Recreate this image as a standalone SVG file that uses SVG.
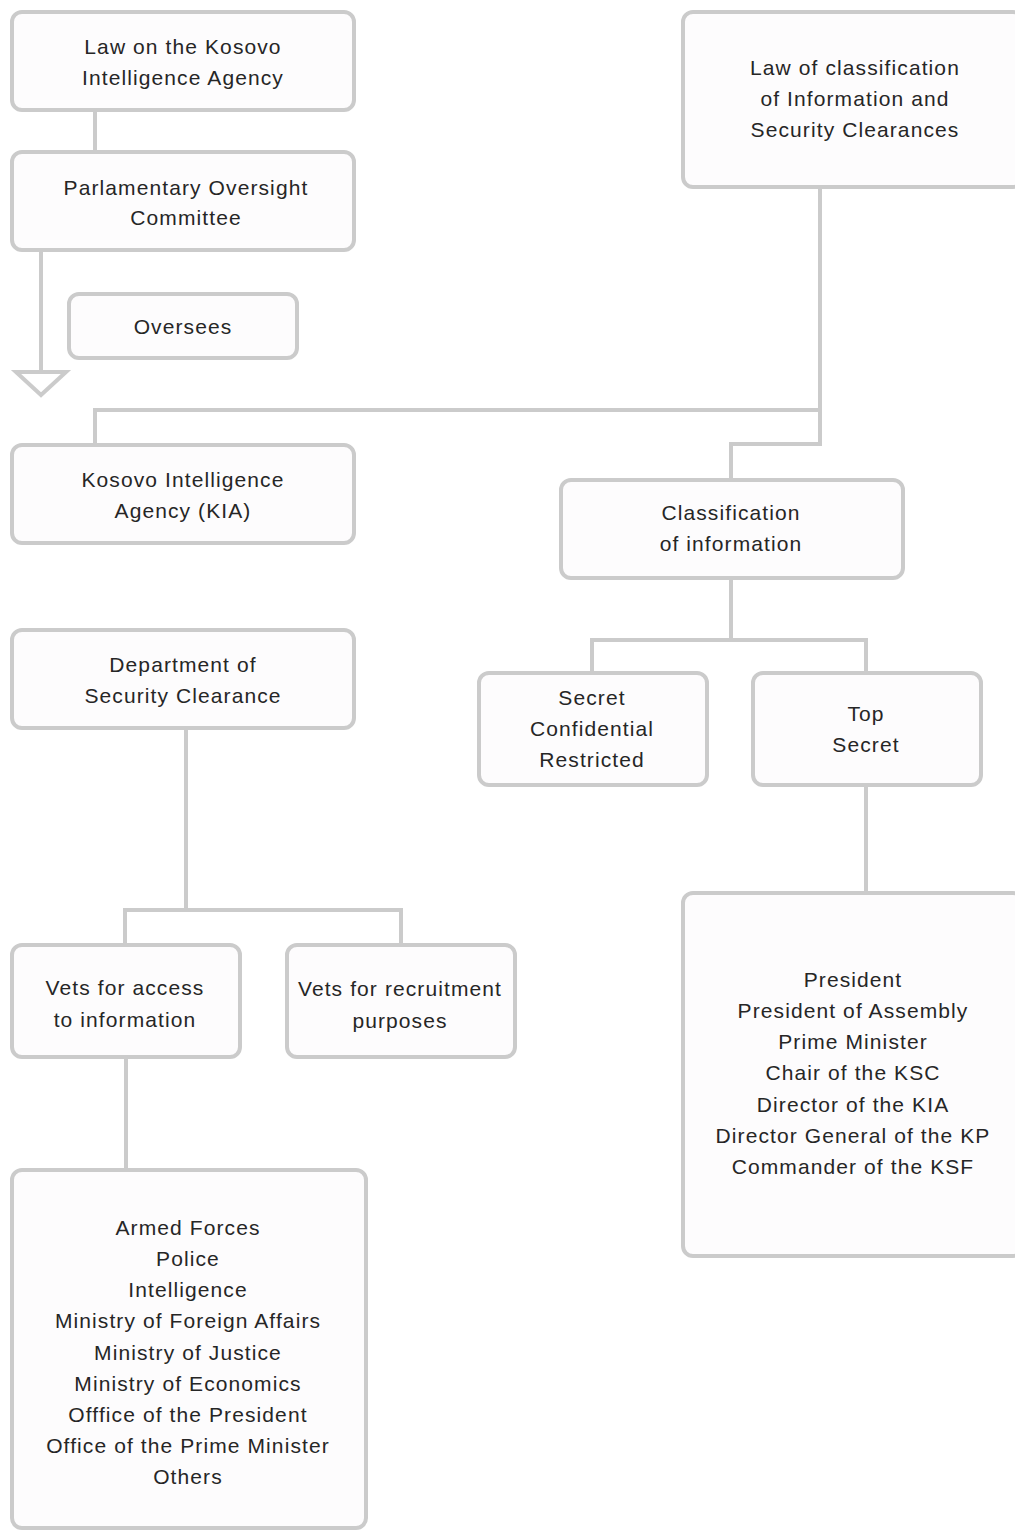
<svg xmlns="http://www.w3.org/2000/svg" width="1015" height="1531" viewBox="0 0 1015 1531">
<style>
.box{fill:#fdfcfd;stroke:#cbcbcb;stroke-width:4}
.ln{fill:none;stroke:#cbcbcb;stroke-width:4}
text{font-family:"Liberation Sans",Arial,sans-serif;font-size:21px;fill:#262626;text-anchor:middle;letter-spacing:1.1px}
</style>
<rect width="1015" height="1531" fill="#ffffff"/>
<g id="connectors">
<path class="ln" d="M95 110V152"/>
<path class="ln" d="M41 250V372"/>
<polygon points="16,372 66,372 41,395" fill="none" stroke="#cbcbcb" stroke-width="4" stroke-linejoin="miter"/>
<path class="ln" d="M95 445V410H820"/>
<path class="ln" d="M820 187V444H731V480"/>
<path class="ln" d="M731 578V640"/>
<path class="ln" d="M592 673V640H866V673"/>
<path class="ln" d="M866 785V893"/>
<path class="ln" d="M186 728V910"/>
<path class="ln" d="M125 945V910H401V945"/>
<path class="ln" d="M126 1057V1170"/>
</g>
<g id="law-kia">
<rect class="box" x="12" y="12" width="342" height="98" rx="10"/>
<text x="183" y="54">Law on the Kosovo</text>
<text x="183" y="85">Intelligence Agency</text>
</g>
<g id="parl">
<rect class="box" x="12" y="152" width="342" height="98" rx="10"/>
<text x="186" y="195">Parlamentary Oversight</text>
<text x="186" y="225">Committee</text>
</g>
<g id="oversees">
<rect class="box" x="69" y="294" width="228" height="64" rx="10"/>
<text x="183" y="334">Oversees</text>
</g>
<g id="kia">
<rect class="box" x="12" y="445" width="342" height="98" rx="10"/>
<text x="183" y="487">Kosovo Intelligence</text>
<text x="183" y="518">Agency (KIA)</text>
</g>
<g id="law-class">
<rect class="box" x="683" y="12" width="340" height="175" rx="10"/>
<text x="855" y="75">Law of classification</text>
<text x="855" y="106">of Information and</text>
<text x="855" y="137">Security Clearances</text>
</g>
<g id="classification">
<rect class="box" x="561" y="480" width="342" height="98" rx="10"/>
<text x="731" y="520">Classification</text>
<text x="731" y="551">of information</text>
</g>
<g id="secret">
<rect class="box" x="479" y="673" width="228" height="112" rx="10"/>
<text x="592" y="705">Secret</text>
<text x="592" y="736">Confidential</text>
<text x="592" y="767">Restricted</text>
</g>
<g id="topsecret">
<rect class="box" x="753" y="673" width="228" height="112" rx="10"/>
<text x="866" y="721">Top</text>
<text x="866" y="752">Secret</text>
</g>
<g id="officials">
<rect class="box" x="683" y="893" width="340" height="363" rx="10"/>
<text x="853" y="987">President</text>
<text x="853" y="1018">President of Assembly</text>
<text x="853" y="1049">Prime Minister</text>
<text x="853" y="1080">Chair of the KSC</text>
<text x="853" y="1112">Director of the KIA</text>
<text x="853" y="1143">Director General of the KP</text>
<text x="853" y="1174">Commander of the KSF</text>
</g>
<g id="dept">
<rect class="box" x="12" y="630" width="342" height="98" rx="10"/>
<text x="183" y="672">Department of</text>
<text x="183" y="703">Security Clearance</text>
</g>
<g id="vets-access">
<rect class="box" x="12" y="945" width="228" height="112" rx="10"/>
<text x="125" y="995">Vets for access</text>
<text x="125" y="1027">to information</text>
</g>
<g id="vets-recruit">
<rect class="box" x="287" y="945" width="228" height="112" rx="10"/>
<text x="400" y="996">Vets for recruitment</text>
<text x="400" y="1028">purposes</text>
</g>
<g id="institutions">
<rect class="box" x="12" y="1170" width="354" height="358" rx="10"/>
<text x="188" y="1235">Armed Forces</text>
<text x="188" y="1266">Police</text>
<text x="188" y="1297">Intelligence</text>
<text x="188" y="1328">Ministry of Foreign Affairs</text>
<text x="188" y="1360">Ministry of Justice</text>
<text x="188" y="1391">Ministry of Economics</text>
<text x="188" y="1422">Offfice of the President</text>
<text x="188" y="1453">Office of the Prime Minister</text>
<text x="188" y="1484">Others</text>
</g>
</svg>
